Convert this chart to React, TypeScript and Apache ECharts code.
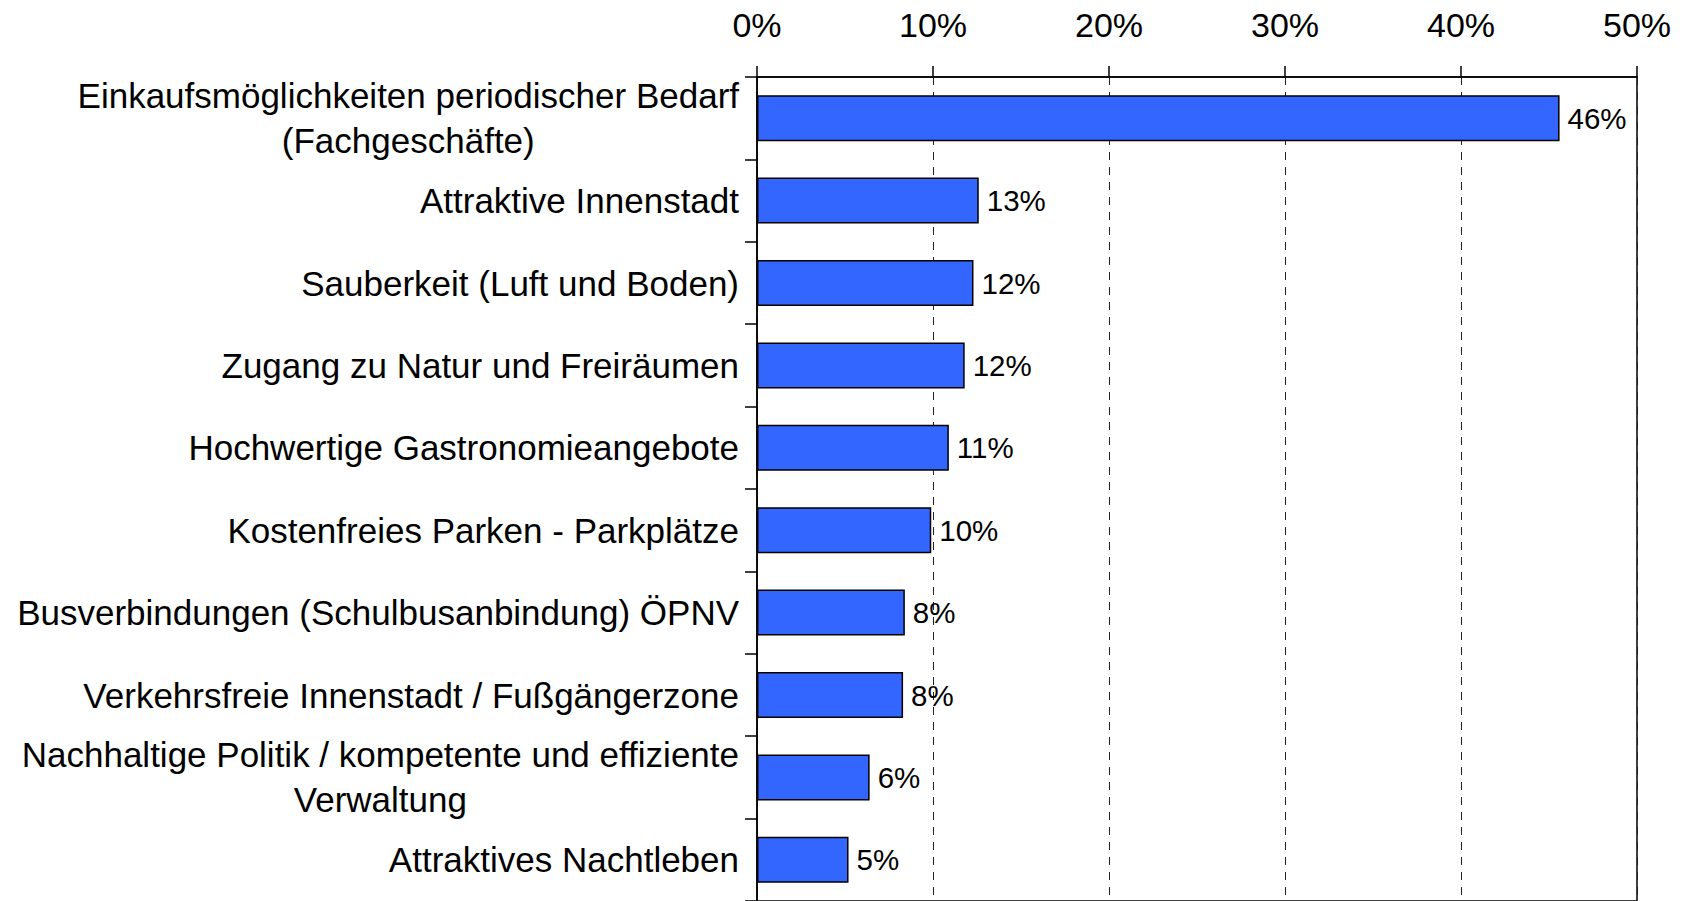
import React, { useEffect, useRef } from "react";
import * as echarts from "echarts";

const categories: string[] = [
  "Einkaufsmöglichkeiten periodischer Bedarf\n(Fachgeschäfte)",
  "Attraktive Innenstadt",
  "Sauberkeit (Luft und Boden)",
  "Zugang zu Natur und Freiräumen",
  "Hochwertige Gastronomieangebote",
  "Kostenfreies Parken - Parkplätze",
  "Busverbindungen (Schulbusanbindung) ÖPNV",
  "Verkehrsfreie Innenstadt / Fußgängerzone",
  "Nachhaltige Politik / kompetente und effiziente\nVerwaltung",
  "Attraktives Nachtleben",
];

const values: number[] = [45.6, 12.6, 12.3, 11.8, 10.9, 9.9, 8.4, 8.3, 6.4, 5.2];

const xMin = 0;
const xMax = 50;
const xInterval = 10;

const FONT = "'Liberation Sans', Arial, sans-serif";

export default function App() {
  const ref = useRef<HTMLDivElement>(null);
  useEffect(() => {
    if (!ref.current) return;
    const chart = echarts.init(ref.current, null, { renderer: "svg" });
    chart.setOption({
      animation: false,
      textStyle: { fontFamily: FONT },
      grid: {
        left: 757,
        right: 45,
        top: 77,
        height: 829,
        containLabel: false,
        show: true,
        borderColor: "#000",
        borderWidth: 1.5,
        backgroundColor: "transparent",
      },
      xAxis: {
        type: "value",
        position: "top",
        min: xMin,
        max: xMax,
        interval: xInterval,
        axisLine: { show: true, lineStyle: { color: "#000", width: 1.5 } },
        axisTick: { show: true, length: 11, lineStyle: { color: "#000", width: 1.5 } },
        axisLabel: {
          margin: 35,
          fontSize: 34,
          color: "#000",
          fontFamily: FONT,
          formatter: (v: number) => `${v}%`,
        },
        splitLine: {
          show: true,
          lineStyle: { color: "#222", width: 1, type: [8, 7] },
        },
      },
      yAxis: {
        type: "category",
        inverse: true,
        data: categories,
        axisLine: { show: true, lineStyle: { color: "#000", width: 1.5 } },
        axisTick: { show: true, length: 12, alignWithLabel: false, lineStyle: { color: "#000", width: 1.5 } },
        axisLabel: {
          margin: 18,
          fontSize: 35,
          lineHeight: 45,
          color: "#000",
          fontFamily: FONT,
          formatter: (v: string) =>
            v
              .split("\n")
              .map((l) => `{c|${l}}`)
              .join("\n"),
          rich: {
            c: {
              align: "center",
              fontSize: 35,
              lineHeight: 45,
              color: "#000",
              fontFamily: FONT,
            },
          },
        },
        splitLine: { show: false },
      },
      series: [
        {
          type: "bar",
          data: values,
          barWidth: 46,
          itemStyle: {
            color: "#3366FF",
            borderColor: "#000",
            borderWidth: 1.5,
          },
          label: {
            show: true,
            position: "right",
            distance: 8,
            fontSize: 29.5,
            color: "#000",
            fontFamily: FONT,
            formatter: (p: any) => `${Math.round(p.value)}%`,
          },
        },
      ],
    });
    return () => chart.dispose();
  }, []);
  return (
    <div
      ref={ref}
      style={{ position: "fixed", left: 0, top: 0, width: 1682, height: 901, background: "#fff" }}
    />
  );
}
